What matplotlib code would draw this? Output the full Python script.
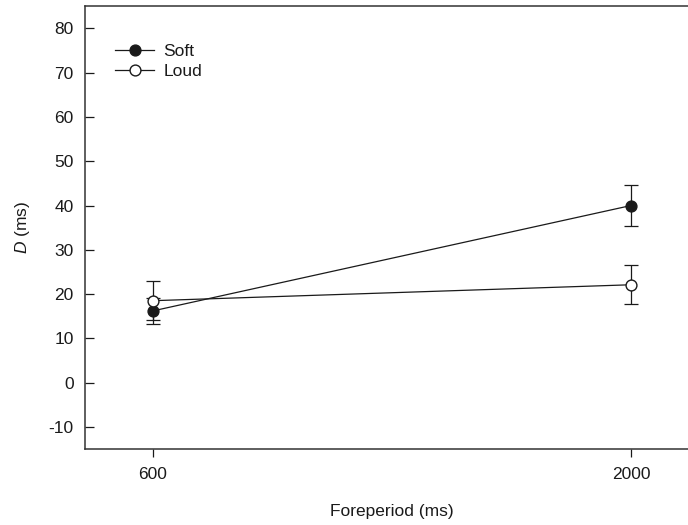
import matplotlib
matplotlib.use("Agg")
import matplotlib.pyplot as plt
from matplotlib.lines import Line2D

plt.rcParams['font.family'] = ['Liberation Sans', 'DejaVu Sans']
plt.rcParams['mathtext.fontset'] = 'custom'
plt.rcParams['mathtext.it'] = 'Liberation Sans:italic'
plt.rcParams['mathtext.rm'] = 'Liberation Sans'
plt.rcParams['axes.unicode_minus'] = False

# data
foreperiod = [600, 2000]
soft_mean = [16.2, 40.0]
soft_err = [2.9, 4.6]
loud_mean = [18.5, 22.1]
loud_err = [4.4, 4.4]
yticks = [-10, 0, 10, 20, 30, 40, 50, 60, 70, 80]

W, H = 688, 525
fig = plt.figure(figsize=(W / 100, H / 100), dpi=100)
# axes run off the right edge of the picture, like the original
ax = fig.add_axes([84.7 / W, (H - 449) / H, 614.6 / W, 442.7 / H])

ink = '#1a1a1a'
fs = 12.5
ax.errorbar(foreperiod, soft_mean, yerr=soft_err, color=ink, lw=0.9,
            marker='o', ms=7.8, mfc=ink, mec=ink, capsize=4.8, capthick=0.9,
            elinewidth=0.9, zorder=3)
ax.errorbar(foreperiod, loud_mean, yerr=loud_err, color=ink, lw=0.9,
            marker='o', ms=7.8, mfc='white', mec=ink, capsize=4.8, capthick=0.9,
            elinewidth=0.9, zorder=4)

ax.set_xlim(400, 2200)
ax.set_ylim(-15, 85)
ax.set_xticks(foreperiod)
ax.set_yticks(yticks)
ax.tick_params(labelsize=fs, colors=ink, width=0.9)
ax.tick_params(axis='x', direction='out', length=6, pad=7)
ax.tick_params(axis='y', direction='in', length=6.5, pad=8)
ax.spines['right'].set_visible(False)
for s in ['left', 'bottom', 'top']:
    ax.spines[s].set_linewidth(1.1)
    ax.spines[s].set_color('#333333')

ax.set_xlabel('Foreperiod (ms)', fontsize=fs, color=ink, labelpad=16)
ax.set_ylabel('$\\mathit{D}$ (ms)', fontsize=fs, color=ink, labelpad=12)

handles = [
    Line2D([], [], color=ink, lw=0.9, marker='o', ms=7.8, mfc=ink, mec=ink),
    Line2D([], [], color=ink, lw=0.9, marker='o', ms=7.8, mfc='white', mec=ink),
]
leg = ax.legend(handles, ['Soft', 'Loud'], loc='upper left',
                bbox_to_anchor=(0.05, 0.915), frameon=False,
                fontsize=fs, handlelength=2.2, handletextpad=0.55,
                labelspacing=0.28, borderaxespad=0, borderpad=0)
for t in leg.get_texts():
    t.set_color(ink)

fig.savefig('out.png', dpi=100)
